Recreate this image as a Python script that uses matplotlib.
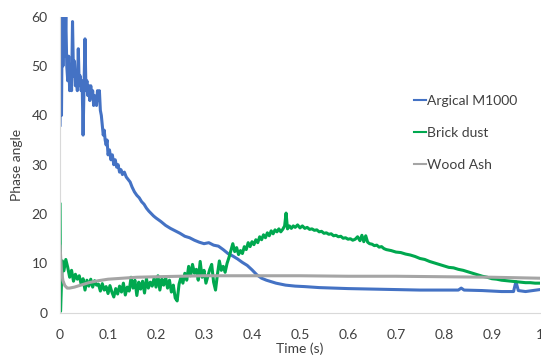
import matplotlib
matplotlib.use("Agg")
import matplotlib.pyplot as plt

blue_time = [0.000, 0.0015, 0.003, 0.0045, 0.006, 0.008, 0.010, 0.012, 0.014, 0.016,
             0.018, 0.020, 0.022, 0.024, 0.026, 0.028, 0.030, 0.032, 0.034, 0.036,
             0.038, 0.040, 0.042, 0.044, 0.046, 0.048, 0.050, 0.052, 0.054, 0.056,
             0.058, 0.060, 0.062, 0.064, 0.066, 0.068, 0.070, 0.072, 0.074, 0.076,
             0.078, 0.080, 0.082, 0.084, 0.086, 0.088, 0.090, 0.092, 0.094, 0.096,
             0.098, 0.100, 0.103, 0.106, 0.109, 0.112, 0.115, 0.118, 0.121, 0.124,
             0.127, 0.130, 0.134, 0.138, 0.142, 0.146, 0.150, 0.155, 0.160, 0.165,
             0.170, 0.175, 0.180, 0.185, 0.190, 0.195, 0.200, 0.210, 0.220, 0.230,
             0.240, 0.250, 0.260, 0.270, 0.280, 0.290, 0.300, 0.310, 0.320, 0.330,
             0.340, 0.350, 0.360, 0.370, 0.380, 0.390, 0.400, 0.410, 0.420, 0.430,
             0.440, 0.450, 0.470, 0.490, 0.510, 0.540, 0.570, 0.600, 0.650, 0.700,
             0.750, 0.800, 0.830, 0.836, 0.842, 0.880, 0.920, 0.945, 0.950, 0.955,
             0.970, 1.000]
blue_phase = [38, 60, 40, 60, 50, 60, 52, 60, 50, 47,
              52, 45, 50, 45, 59, 48, 51, 46, 49, 45,
              53.5, 46, 48, 45, 47, 36, 46, 55.5, 45, 47,
              44, 46, 43, 46, 44, 45, 42, 44, 43, 42,
              45, 43, 45, 41, 40, 38, 36, 37, 35, 34,
              35, 32, 33, 31, 32, 30, 31, 29.5, 30, 28.5,
              29, 28, 28.5, 27.5, 27, 26.5, 25.5, 24.5, 23.8, 23.3,
              22.5, 22, 21.2, 20.6, 20.1, 19.6, 19.2, 18.5, 17.7, 17.1,
              16.6, 16.1, 15.5, 15.2, 14.7, 14.3, 14.0, 14.2, 13.7, 13.5,
              12.8, 12.0, 11.5, 10.9, 10.2, 9.6, 8.7, 7.7, 7.0, 6.6,
              6.3, 6.0, 5.6, 5.4, 5.3, 5.1, 5.0, 4.9, 4.8, 4.7,
              4.6, 4.6, 4.6, 5.0, 4.6, 4.5, 4.3, 4.3, 6.3, 4.5,
              4.3, 4.7]

green_time = [0.000, 0.001, 0.003, 0.005,
              0.008, 0.012, 0.016, 0.020, 0.024, 0.028, 0.032, 0.036, 0.040, 0.044,
              0.048, 0.052, 0.056, 0.060, 0.064, 0.068, 0.072, 0.076, 0.080, 0.084,
              0.088, 0.092, 0.096, 0.100, 0.104, 0.108, 0.112, 0.116, 0.120, 0.124,
              0.128, 0.132, 0.136, 0.140, 0.144, 0.148, 0.152, 0.156, 0.160, 0.164,
              0.168, 0.172, 0.176, 0.180, 0.184, 0.188, 0.192, 0.196, 0.200, 0.204,
              0.208, 0.212, 0.216, 0.220, 0.224, 0.228, 0.232, 0.236, 0.240, 0.244,
              0.248, 0.252, 0.256, 0.260, 0.264, 0.268, 0.272, 0.276, 0.280, 0.284,
              0.288, 0.292, 0.296, 0.300, 0.304, 0.308, 0.312, 0.316, 0.320, 0.324,
              0.328, 0.332, 0.336, 0.340, 0.344, 0.348, 0.352, 0.356, 0.360, 0.364,
              0.368, 0.372, 0.376, 0.380, 0.384, 0.388, 0.392, 0.396, 0.400, 0.404,
              0.408, 0.412, 0.416, 0.420, 0.424, 0.428, 0.432, 0.436, 0.440, 0.444,
              0.448, 0.452, 0.456, 0.460, 0.464, 0.468, 0.471, 0.474, 0.478, 0.482,
              0.486, 0.490, 0.495, 0.500, 0.505, 0.510, 0.515, 0.520, 0.525, 0.530,
              0.535, 0.540, 0.545, 0.550, 0.555, 0.560, 0.565, 0.570, 0.575, 0.580,
              0.585, 0.590, 0.595, 0.600, 0.605, 0.610, 0.615, 0.620, 0.625, 0.629,
              0.633, 0.637, 0.641, 0.645, 0.650, 0.655, 0.660, 0.665, 0.670, 0.675,
              0.680, 0.690, 0.700, 0.710, 0.720, 0.730, 0.740, 0.750, 0.760, 0.770,
              0.780, 0.790, 0.800, 0.810, 0.820, 0.830, 0.840, 0.850, 0.860, 0.870,
              0.880, 0.890, 0.900, 0.910, 0.920, 0.930, 0.940, 0.950, 0.960, 0.970,
              0.980, 0.990, 1.000]
green_phase = [22, 0.3, 6, 10.5,
               8.5, 10.8, 9.2, 7.2, 8.6, 6.4, 7.8, 6.8, 7.5, 5.8,
               6.9, 4.6, 6.6, 5.4, 6.8, 5.2, 6.5, 5.6, 5.8, 4.4,
               5.9, 4.6, 5.3, 3.9, 5.5, 4.2, 3.2, 4.9, 3.8, 5.4,
               4.2, 6.0, 3.6, 5.2, 4.4, 7.2, 5.0, 6.6, 3.5, 6.2,
               4.8, 6.4, 4.0, 6.9, 5.0, 6.2, 5.4, 7.0, 5.2, 7.5,
               4.6, 6.8, 5.6, 7.2, 5.0, 6.6, 4.2, 5.6, 3.0, 2.4,
               5.8, 7.2, 6.0, 8.0, 6.6, 9.4, 7.5, 9.8, 8.0, 8.8,
               6.6, 10.4, 7.2, 8.6, 6.0, 7.4, 8.8, 9.8, 6.2, 4.6,
               7.8, 10.5, 8.6, 9.4, 8.2, 10.0, 11.2, 12.6, 14.0, 12.4,
               13.2, 11.8, 12.6, 12.0, 13.4, 12.8, 14.2, 13.4, 14.4, 13.8,
               14.8, 14.2, 15.4, 14.8, 15.8, 15.2, 16.2, 15.6, 16.6, 16.0,
               16.8, 16.4, 17.0, 16.4, 16.9, 17.6, 20.2, 17.0, 17.6, 17.1,
               17.6, 17.3, 17.8, 17.2, 17.6, 17.1, 17.3, 16.9, 17.0, 16.7,
               16.8, 16.4, 16.5, 16.1, 16.2, 15.9, 16.0, 15.6, 15.7, 15.4,
               15.5, 15.1, 15.2, 14.9, 15.0, 14.7, 14.9, 15.4, 14.6, 15.7,
               14.4, 15.6, 14.3, 14.0, 13.9, 13.6, 13.7, 13.3, 13.4, 13.0,
               12.8, 12.6, 12.3, 12.2, 11.9, 11.7, 11.4, 11.0, 10.8, 10.4,
               10.1, 9.8, 9.5, 9.2, 9.1, 8.8, 8.6, 8.3, 8.0, 7.7,
               7.4, 7.2, 6.9, 6.8, 6.6, 6.5, 6.4, 6.3, 6.2, 6.1,
               6.1, 6.0, 6.0]

gray_time = [0.000, 0.003, 0.006, 0.010, 0.015, 0.020, 0.030, 0.040, 0.050, 0.060,
             0.080, 0.100, 0.130, 0.160, 0.200, 0.250, 0.300, 0.350, 0.400, 0.450,
             0.500, 0.600, 0.700, 0.800, 0.900, 0.950, 1.000]
gray_phase = [13.5, 8.5, 6.5, 5.5, 5.0, 5.0, 5.2, 5.5, 5.8, 6.1,
              6.5, 6.8, 7.0, 7.2, 7.3, 7.4, 7.5, 7.5, 7.5, 7.5,
              7.5, 7.4, 7.4, 7.3, 7.2, 7.1, 7.0]

series_names = ["Argical M1000", "Brick dust", "Wood Ash"]
x_ticks = [0, 0.1, 0.2, 0.3, 0.4, 0.5, 0.6, 0.7, 0.8, 0.9, 1]
x_tick_labels = ["0", "0.1", "0.2", "0.3", "0.4", "0.5", "0.6", "0.7", "0.8", "0.9", "1"]
y_ticks = [0, 10, 20, 30, 40, 50, 60]

plt.rcParams['font.family'] = ['Lato', 'DejaVu Sans']
text_color = "#404040"

fig = plt.figure(figsize=(5.41, 3.62), dpi=100)
ax = fig.add_axes([0.111, 0.136, 0.887, 0.818])

ax.plot(blue_time, blue_phase, color="#4472C4", lw=2.2, label=series_names[0])
ax.plot(green_time, green_phase, color="#00A84F", lw=2.2, label=series_names[1])
ax.plot(gray_time, gray_phase, color="#A5A5A5", lw=2.2, label=series_names[2])

ax.set_xlim(0, 1)
ax.set_ylim(0, 60)
ax.set_xticks(x_ticks)
ax.set_xticklabels(x_tick_labels)
ax.set_yticks(y_ticks)
ax.tick_params(axis="x", length=0, labelsize=10, colors=text_color, pad=12)
ax.tick_params(axis="y", length=0, labelsize=10, colors=text_color, pad=9)
for s in ["top", "right"]:
    ax.spines[s].set_visible(False)
for s in ["left", "bottom"]:
    ax.spines[s].set_color("#D9D9D9")
    ax.spines[s].set_linewidth(0.8)

ax.set_xlabel("Time (s)", fontsize=10, color=text_color, labelpad=1)
ax.set_ylabel("Phase angle", fontsize=10, color=text_color, labelpad=6)

leg = ax.legend(loc="upper left", bbox_to_anchor=(0.725, 0.755), frameon=False,
                fontsize=10, handlelength=0.9, handletextpad=0.1, labelspacing=1.45,
                borderaxespad=0)
for t in leg.get_texts():
    t.set_color(text_color)
for l in leg.get_lines():
    l.set_linewidth(1.5)

fig.savefig("out.png", dpi=100)
